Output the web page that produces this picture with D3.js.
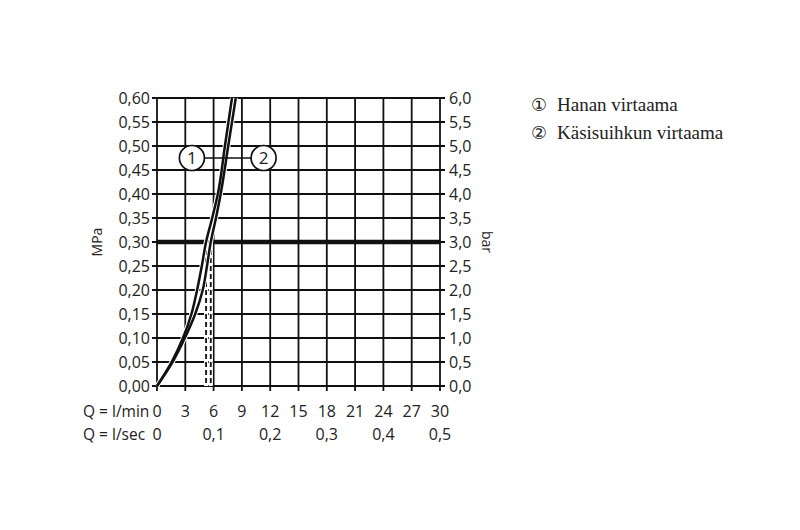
<!DOCTYPE html>
<html><head><meta charset="utf-8">
<script src="https://cdn.jsdelivr.net/npm/d3@7"></script>
<style>
body{margin:0;background:#fff;}
text{font-family:"Open Sans",sans-serif;fill:#222;}
text.serif{font-family:"Liberation Serif",serif;}
text.m{font-family:"DejaVu Sans",sans-serif;}
</style></head>
<body><svg id="c" width="800" height="530"></svg>
<script>
// Data
const flowTicksLmin = [0,3,6,9,12,15,18,21,24,27,30];
const flowLabelsLsec = [[0,"0"],[6,"0,1"],[12,"0,2"],[18,"0,3"],[24,"0,4"],[30,"0,5"]];
const pressureTicksMPa = [0,0.05,0.10,0.15,0.20,0.25,0.30,0.35,0.40,0.45,0.50,0.55,0.60];
const pressureLabelsBar = ["0,0","0,5","1,0","1,5","2,0","2,5","3,0","3,5","4,0","4,5","5,0","5,5","6,0"];
// curve 1: Hanan virtaama  [l/min, MPa]
const curve1 = [[0,0],[1.55,0.05],[2.75,0.10],[3.65,0.15],[4.25,0.20],[4.75,0.25],[5.2,0.30],[5.85,0.35],[6.45,0.40],[7.2,0.50],[7.95,0.60]];
// curve 2: Käsisuihkun virtaama
const curve2 = [[0,0],[1.65,0.05],[2.95,0.10],[4.05,0.15],[4.85,0.20],[5.3,0.25],[5.7,0.30],[6.25,0.35],[6.75,0.40],[7.55,0.50],[8.35,0.60]];
const refPressure = 0.30;
const refFlows = [5.2, 5.7];
const legendMarks = ["①","②"];
const legendItems = ["Hanan virtaama","Käsisuihkun virtaama"];

const svg = d3.select("#c");
const x = d3.scaleLinear().domain([0,30]).range([157,440]);
const y = d3.scaleLinear().domain([0,0.60]).range([386,98]);
const fmt = v => d3.format(".2f")(v).replace(".",",");

// grid
const g = svg.append("g");
g.selectAll("line.v").data(flowTicksLmin).join("line")
 .attr("x1",d=>x(d)).attr("x2",d=>x(d)).attr("y1",y(0.60)).attr("y2",y(0)+5)
 .attr("stroke","#111").attr("stroke-width",1.8);
g.selectAll("line.h").data(pressureTicksMPa).join("line")
 .attr("x1",x(0)-5).attr("x2",x(30)+5).attr("y1",d=>y(d)).attr("y2",d=>y(d))
 .attr("stroke","#111").attr("stroke-width",1.8);
// thick reference line
g.append("line").attr("x1",x(0)).attr("x2",x(30)).attr("y1",y(refPressure)).attr("y2",y(refPressure))
 .attr("stroke","#111").attr("stroke-width",4.5);

// dashed reference drops
refFlows.forEach(f=>{
  g.append("line").attr("x1",x(f)).attr("x2",x(f)).attr("y1",y(refPressure)).attr("y2",y(0))
   .attr("stroke","#fff").attr("stroke-width",4);
  g.append("line").attr("x1",x(f)).attr("x2",x(f)).attr("y1",y(refPressure)).attr("y2",y(0))
   .attr("stroke","#111").attr("stroke-width",1.8).attr("stroke-dasharray","5,3");
});

// curves
const line = d3.line().x(d=>x(d[0])).y(d=>y(d[1])).curve(d3.curveMonotoneY);
[curve1,curve2].forEach(c=>{
  g.append("path").datum(c).attr("d",line).attr("fill","none").attr("stroke","#fff").attr("stroke-width",4.5);
});
[curve1,curve2].forEach(c=>{
  g.append("path").datum(c).attr("d",line).attr("fill","none").attr("stroke","#111").attr("stroke-width",2.5);
});

// callouts
const cy = y(0.475);
g.append("line").attr("x1",x(3.8)).attr("x2",x(11.4)).attr("y1",cy).attr("y2",cy).attr("stroke","#111").attr("stroke-width",1.5);
[[3.7,"1"],[11.3,"2"]].forEach(([v,t])=>{
  g.append("circle").attr("cx",x(v)).attr("cy",cy).attr("r",12.5).attr("fill","#fff").attr("stroke","#111").attr("stroke-width",1.7);
  g.append("text").attr("x",x(v)).attr("y",cy+6).attr("text-anchor","middle").attr("font-size",17).text(t);
});

// axis labels
svg.append("g").selectAll("text").data(pressureTicksMPa).join("text")
 .attr("x",150).attr("y",d=>y(d)+5.5).attr("text-anchor","end").attr("font-size",16).text(fmt);
svg.append("g").selectAll("text").data(pressureLabelsBar).join("text")
 .attr("x",449).attr("y",(d,i)=>y(pressureTicksMPa[i])+5.5).attr("font-size",16).text(d=>d);
svg.append("text").attr("transform",`translate(102,${y(0.30)}) rotate(-90)`).attr("text-anchor","middle").attr("font-size",14).text("MPa");
svg.append("text").attr("transform",`translate(482,${y(0.30)}) rotate(90)`).attr("text-anchor","middle").attr("font-size",14).text("bar");

svg.append("text").attr("x",83).attr("y",417).attr("font-size",15.5).text("Q = l/min");
svg.append("g").selectAll("text").data(flowTicksLmin).join("text")
 .attr("x",d=>x(d)).attr("y",417).attr("text-anchor","middle").attr("font-size",16).text(d=>d);
svg.append("text").attr("x",83).attr("y",440).attr("font-size",15.5).text("Q = l/sec");
svg.append("g").selectAll("text").data(flowLabelsLsec).join("text")
 .attr("x",d=>x(d[0])).attr("y",440).attr("text-anchor","middle").attr("font-size",16).text(d=>d[1]);

// legend
const lg = svg.append("g");
lg.selectAll("text.m").data(legendMarks).join("text").attr("class","m")
 .attr("x",531).attr("y",(d,i)=>111+i*28).attr("font-size",18).text(d=>d);
lg.selectAll("text.serif").data(legendItems).join("text").attr("class","serif")
 .attr("x",557).attr("y",(d,i)=>111+i*28).attr("font-size",19).text(d=>d);
</script></body></html>
